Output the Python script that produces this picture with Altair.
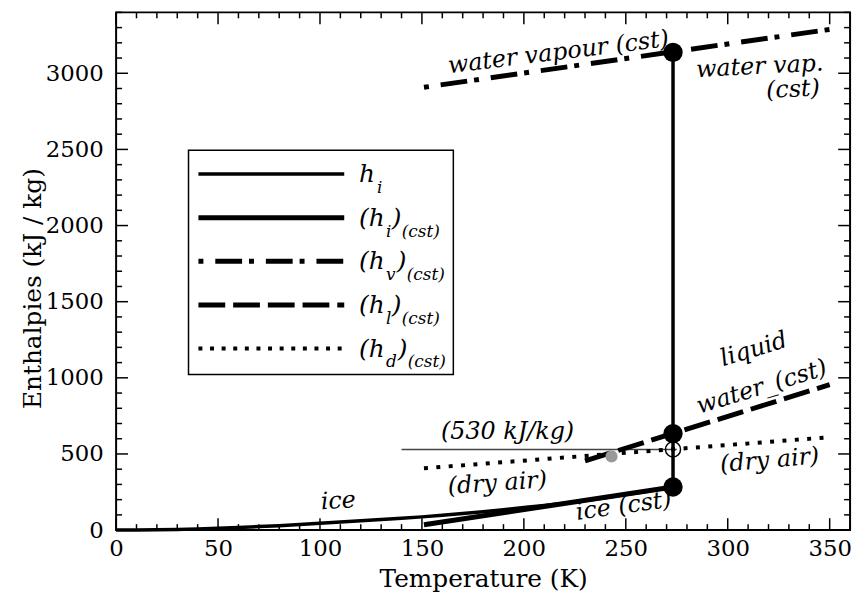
import altair as alt
import pandas as pd

# ---------------- data ----------------
ice_T = [0, 10, 20, 30, 40, 50, 60, 70, 80, 90, 100, 110, 120, 130, 140, 150,
         160, 170, 180, 190, 200, 210, 220, 230, 240, 250, 260, 273.16]
ice_h = [0, 0.5, 2, 4.5, 8, 12, 17, 23, 29, 37, 45, 53, 61, 70, 78, 87,
         98, 109, 121, 134, 148, 162, 177, 194, 212, 233, 254, 283]

ice_cst_T = [151, 273.16]
ice_cst_h = [35, 283]
vap_cst_T = [151, 350]
vap_cst_h = [2908, 3288]
liq_cst_T = [230, 350]
liq_cst_h = [455, 955]
dry_cst_T = [151, 350]
dry_cst_h = [406, 610]
ref_T = [140, 275]
ref_h = [530, 530]
jump_T = [273.16, 273.16]
jump_h = [283, 3137]
state_T = [273.16, 273.16, 273.16]
state_h = [283, 634, 3137]
open_T = [273.16]
open_h = [530]
grey_T = [243]
grey_h = [484]

x_major = [0, 50, 100, 150, 200, 250, 300, 350]
y_major = [0, 500, 1000, 1500, 2000, 2500, 3000]
x_minor = [v for v in range(0, 361, 10) if v % 50]
y_minor = [v for v in range(0, 3401, 100) if v % 500]

ann_text = ["water vapour (cst)", "water vap.", "(cst)", "liquid", "water_(cst)",
            "(530 kJ/kg)", "(dry air)", "(dry air)", "ice", "ice (cst)"]
ann_T = [217, 315.7, 332, 312.8, 316.7, 192, 187, 320.6, 109, 249]
ann_h = [3135, 3042, 2892, 1185, 938, 645, 306, 456, 189, 156]
ann_angle = [353, 357, 357, 343, 343, 0, 356, 355, 357, 352]

legend_rows = [["h", "i"], ["(h", "i", ")", "(cst)"], ["(h", "v", ")", "(cst)"],
               ["(h", "l", ")", "(cst)"], ["(h", "d", ")", "(cst)"]]

# ---------------- layout / style ----------------
W, H = 740, 522
FONT = "DejaVu Serif"

xs = alt.Scale(domain=[0, 360], nice=False, zero=False)
ys = alt.Scale(domain=[0, 3400], nice=False, zero=False)
X = alt.X("T:Q", scale=xs,
          axis=alt.Axis(values=x_major, title="Temperature (K)", labelFlush=False,
                        labelOverlap=False, labelPadding=8, titleY=57,
                        titleBaseline="alphabetic", format="d"))
Y = alt.Y("h:Q", scale=ys,
          axis=alt.Axis(values=y_major, title="Enthalpies (kJ / kg)", labelFlush=False,
                        labelOverlap=False, labelPadding=13, titleX=-84, titleY=278,
                        titleBaseline="middle", format="d"))


def df(T, h):
    return pd.DataFrame({"T": T, "h": h})


dummy = pd.DataFrame({"k": [0]})
layers = []

# ticks (inward, all four sides)
for vals, L in ((x_major, 12), (x_minor, 6)):
    d = pd.DataFrame({"T": vals})
    layers.append(alt.Chart(d).mark_rule(color="black", strokeWidth=1.5).encode(
        x=X, y=alt.value(H), y2=alt.value(H - L)))
    layers.append(alt.Chart(d).mark_rule(color="black", strokeWidth=1.5).encode(
        x=X, y=alt.value(0), y2=alt.value(L)))
for vals, L in ((y_major, 12), (y_minor, 6)):
    d = pd.DataFrame({"h": vals})
    layers.append(alt.Chart(d).mark_rule(color="black", strokeWidth=1.5).encode(
        y=Y, x=alt.value(0), x2=alt.value(L)))
    layers.append(alt.Chart(d).mark_rule(color="black", strokeWidth=1.5).encode(
        y=Y, x=alt.value(W), x2=alt.value(W - L)))

# curves
layers.append(alt.Chart(df(ref_T, ref_h)).mark_line(color="#444444", strokeWidth=1.5).encode(x=X, y=Y))
layers.append(alt.Chart(df(ice_T, ice_h)).mark_line(color="black", strokeWidth=3.5).encode(x=X, y=Y))
layers.append(alt.Chart(df(ice_cst_T, ice_cst_h)).mark_line(color="black", strokeWidth=5).encode(x=X, y=Y))
layers.append(alt.Chart(df(vap_cst_T, vap_cst_h)).mark_line(
    color="black", strokeWidth=5, strokeDash=[5, 12, 27, 7]).encode(x=X, y=Y))
layers.append(alt.Chart(df(liq_cst_T, liq_cst_h)).mark_line(
    color="black", strokeWidth=5, strokeDash=[27, 8]).encode(x=X, y=Y))
layers.append(alt.Chart(df(dry_cst_T, dry_cst_h)).mark_line(
    color="black", strokeWidth=4, strokeDash=[4, 8.5]).encode(x=X, y=Y))
layers.append(alt.Chart(df(jump_T, jump_h)).mark_line(color="black", strokeWidth=3.5).encode(
    x=X, y=Y, order=alt.Order("h:Q")))

# points
layers.append(alt.Chart(df(grey_T, grey_h)).mark_circle(color="#999999", size=150, opacity=1).encode(x=X, y=Y))
layers.append(alt.Chart(df(open_T, open_h)).mark_point(
    shape="circle", filled=False, color="black", size=230, strokeWidth=1.5, opacity=1).encode(x=X, y=Y))
layers.append(alt.Chart(df(state_T, state_h)).mark_circle(color="black", size=380, opacity=1).encode(x=X, y=Y))

# annotations
ann = pd.DataFrame({"T": ann_T, "h": ann_h, "txt": ann_text, "ang": ann_angle})
layers.append(alt.Chart(ann).mark_text(
    font=FONT, fontStyle="italic", fontSize=24, color="black", align="center", baseline="middle").encode(
    x=X, y=Y, text="txt:N", angle=alt.Angle("ang:Q", scale=None)))

# legend box
OX, OY = 117, 10
layers.append(alt.Chart(dummy).mark_rect(fill="white", stroke="black", strokeWidth=1.5).encode(
    x=alt.value(190 - OX), x2=alt.value(457 - OX), y=alt.value(149 - OY), y2=alt.value(375 - OY)))

row_y = [173, 217, 261, 305, 349]
row_style = [dict(strokeWidth=3.5), dict(strokeWidth=5),
             dict(strokeWidth=5, strokeDash=[5, 12, 27, 7]),
             dict(strokeWidth=5, strokeDash=[27, 8]),
             dict(strokeWidth=4, strokeDash=[4, 7.7])]
piece_x = [[362, 380], [362, 389, 395, 405], [362, 389, 400, 410],
           [362, 389, 395, 405], [362, 389, 401, 411]]
for r, yy in enumerate(row_y):
    layers.append(alt.Chart(dummy).mark_rule(color="black", **row_style[r]).encode(
        x=alt.value(200 - OX), x2=alt.value(347 - OX), y=alt.value(yy - OY)))
    for i, txt in enumerate(legend_rows[r]):
        sub = (i % 2 == 1)
        layers.append(alt.Chart(dummy).mark_text(
            font=FONT, fontStyle="italic", fontSize=17 if sub else 25, color="black",
            align="left", baseline="alphabetic").encode(
            x=alt.value(piece_x[r][i] - OX),
            y=alt.value(yy - OY + (19 if sub else 8)),
            text=alt.value(txt)))

chart = alt.layer(*layers).properties(
    width=W, height=H,
    autosize=alt.AutoSizeParams(type="none"),
    padding={"left": 109, "top": 2, "right": 8, "bottom": 60},
    background="white",
).configure_view(stroke="black", strokeWidth=2).configure_axis(
    domain=False, ticks=False, grid=False,
    labelFont=FONT, labelFontSize=23, labelColor="black",
    titleFont=FONT, titleFontSize=25, titleFontWeight="normal", titleColor="black",
)

chart.save("out.html", embed_options={"renderer": "svg", "actions": False})
